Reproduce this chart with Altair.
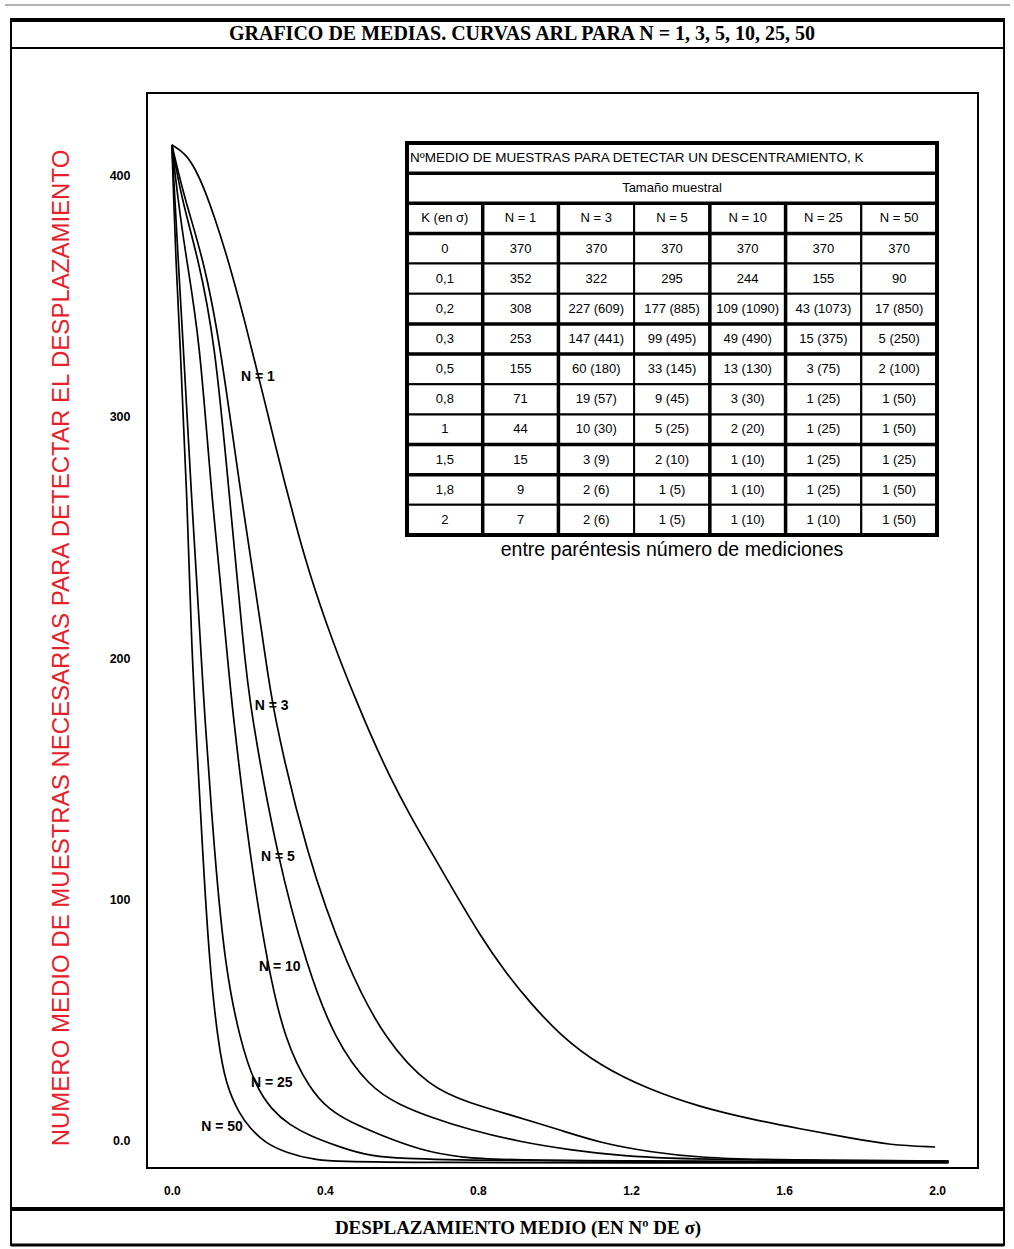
import altair as alt
import pandas as pd

# ---------------- curve data ----------------
series_names = ["N = 1", "N = 3", "N = 5", "N = 10", "N = 25", "N = 50"]

k_n1 = [0.0, 0.034, 0.060, 0.086, 0.112, 0.139, 0.165, 0.191, 0.217, 0.243, 0.269, 0.295, 0.322,
        0.348, 0.374, 0.405, 0.439, 0.478, 0.523, 0.570, 0.622, 0.675, 0.740, 0.805, 0.871, 0.937,
        1.014, 1.119, 1.250, 1.380, 1.511, 1.642, 1.773, 1.877, 1.995]
arl_n1 = [412.6, 409.3, 403.1, 394.0, 382.4, 369.1, 354.6, 339.3, 322.7, 306.1, 289.1, 272.6, 256.4,
          241.5, 228.3, 213.8, 199.3, 183.9, 166.9, 150.8, 135.0, 120.5, 102.7, 85.3, 70.0, 57.2,
          43.9, 31.1, 21.1, 14.1, 9.1, 5.0, 1.2, -1.7, -2.5]

k_n3 = [0.0, 0.034, 0.081, 0.125, 0.178, 0.243, 0.261, 0.353, 0.458, 0.557, 0.675, 0.779, 0.884,
        1.014, 1.119, 1.250, 1.380, 1.590, 2.03]
arl_n3 = [412.6, 389.8, 366.2, 331.8, 269.7, 203.4, 179.8, 117.6, 72.1, 41.8, 22.0, 15.7, 10.8,
          4.6, -0.8, -4.6, -7.0, -7.9, -8.3]

k_n5 = [0.0, 0.026, 0.068, 0.112, 0.149, 0.188, 0.204, 0.275, 0.353, 0.426, 0.518, 0.596, 0.675,
        0.779, 0.910, 1.041, 1.171, 1.380, 2.03]
arl_n5 = [412.6, 389.8, 366.2, 331.8, 269.7, 203.4, 179.8, 117.6, 72.1, 41.8, 22.0, 14.9, 9.9,
          4.6, -0.4, -3.7, -6.2, -7.9, -8.3]

k_n10 = [0.0, 0.016, 0.037, 0.073, 0.102, 0.144, 0.157, 0.204, 0.251, 0.295, 0.361, 0.413, 0.465,
         0.544, 0.648, 0.753, 0.910, 2.03]
arl_n10 = [412.6, 389.8, 366.2, 331.8, 269.7, 203.4, 179.8, 117.6, 72.1, 41.8, 21.1, 12.8, 7.9,
           2.5, -3.7, -7.0, -8.3, -8.7]

k_n25 = [0.0, 0.008, 0.016, 0.029, 0.050, 0.076, 0.084, 0.112, 0.139, 0.178, 0.217, 0.261, 0.308,
         0.361, 0.439, 0.510, 0.667, 2.03]
arl_n25 = [412.6, 389.8, 366.2, 331.8, 269.7, 203.4, 179.8, 117.6, 72.1, 41.8, 23.2, 12.8, 6.6,
           2.1, -2.5, -6.2, -8.3, -8.7]

k_n50 = [0.0, 0.005, 0.010, 0.021, 0.039, 0.052, 0.060, 0.081, 0.099, 0.120, 0.141, 0.178, 0.204,
         0.243, 0.301, 0.369, 0.484, 2.03]
arl_n50 = [412.6, 389.8, 366.2, 331.8, 269.7, 203.4, 179.8, 117.6, 72.1, 41.8, 23.2, 10.8, 5.4,
           -0.8, -5.0, -7.9, -9.1, -9.1]

label_k = [0.225, 0.261, 0.277, 0.282, 0.261, 0.131]
label_arl = [316.5, 180.2, 117.6, 72.1, 24.0, 5.8]

x_ticks = [0.0, 0.4, 0.8, 1.2, 1.6, 2.0]
y_ticks = [0, 100, 200, 300, 400]

# ---------------- table data ----------------
tabla_titulo = "NºMEDIO DE MUESTRAS PARA DETECTAR UN DESCENTRAMIENTO, K"
tabla_sub = "Tamaño muestral"
cabeceras = ["K (en σ)", "N = 1", "N = 3", "N = 5", "N = 10", "N = 25", "N = 50"]
col_k = ["0", "0,1", "0,2", "0,3", "0,5", "0,8", "1", "1,5", "1,8", "2"]
col_n1 = ["370", "352", "308", "253", "155", "71", "44", "15", "9", "7"]
col_n3 = ["370", "322", "227 (609)", "147 (441)", "60 (180)", "19 (57)", "10 (30)", "3 (9)", "2 (6)", "2 (6)"]
col_n5 = ["370", "295", "177 (885)", "99 (495)", "33 (145)", "9 (45)", "5 (25)", "2 (10)", "1 (5)", "1 (5)"]
col_n10 = ["370", "244", "109 (1090)", "49 (490)", "13 (130)", "3 (30)", "2 (20)", "1 (10)", "1 (10)", "1 (10)"]
col_n25 = ["370", "155", "43 (1073)", "15 (375)", "3 (75)", "1 (25)", "1 (25)", "1 (25)", "1 (25)", "1 (10)"]
col_n50 = ["370", "90", "17 (850)", "5 (250)", "2 (100)", "1 (50)", "1 (50)", "1 (25)", "1 (50)", "1 (50)"]
nota = "entre paréntesis número de mediciones"

titulo = "GRAFICO DE MEDIAS. CURVAS ARL PARA N = 1, 3, 5, 10, 25, 50"
titulo_x = "DESPLAZAMIENTO MEDIO (EN Nº DE σ)"
titulo_y = "NUMERO MEDIO DE MUESTRAS NECESARIAS PARA DETECTAR EL DESPLAZAMIENTO"

# ---------------- build frames ----------------
rows = []
for name, xs_, ys_ in zip(series_names,
                          [k_n1, k_n3, k_n5, k_n10, k_n25, k_n50],
                          [arl_n1, arl_n3, arl_n5, arl_n10, arl_n25, arl_n50]):
    for i, (a, b) in enumerate(zip(xs_, ys_)):
        rows.append({"serie": name, "k": a, "arl": b, "orden": i})
curves_df = pd.DataFrame(rows)
labels_df = pd.DataFrame({"serie": series_names, "k": label_k, "arl": label_arl})

columns = [col_k, col_n1, col_n3, col_n5, col_n10, col_n25, col_n50]
ncol = len(columns)
nrow = 3 + len(col_k)
cells = [{"c0": 0, "c1": ncol, "r0": 0, "r1": 1},
         {"c0": 0, "c1": ncol, "r0": 1, "r1": 2}]
texts = [{"cx": ncol / 2, "cy": 1.5, "txt": tabla_sub}]
for c in range(ncol):
    cells.append({"c0": c, "c1": c + 1, "r0": 2, "r1": 3})
    texts.append({"cx": c + 0.5, "cy": 2.5, "txt": cabeceras[c]})
    for r, val in enumerate(columns[c]):
        cells.append({"c0": c, "c1": c + 1, "r0": r + 3, "r1": r + 4})
        texts.append({"cx": c + 0.5, "cy": r + 3.5, "txt": val})
cells_df = pd.DataFrame(cells)
texts_df = pd.DataFrame(texts)
head_df = pd.DataFrame([{"cx": 0.04, "cy": 0.5, "txt": tabla_titulo}])
nota_df = pd.DataFrame([{"cx": ncol / 2, "cy": nrow + 0.5, "txt": nota}])
outer_df = pd.DataFrame([{"c0": 0, "c1": ncol, "r0": 0, "r1": nrow}])
# heavier separators seen in the printed table (row / column boundaries)
thick_rows = pd.DataFrame({"r": [1, 2, 3, 6, 7, 10, 11]})
thick_cols = pd.DataFrame({"c": [1, 2, 4, 5]})

SANS = "Liberation Sans Narrow, Liberation Sans, Arial, sans-serif"
SERIF = "Liberation Serif, Times New Roman, serif"

W, H = 831, 1075

xs = alt.Scale(domain=[-0.065, 2.107], nice=False, zero=False)
ys = alt.Scale(domain=[-11.2, 434.1], nice=False, zero=False)

x_axis = alt.Axis(values=x_ticks, format=".1f", ticks=False, domain=False, grid=False,
                  labelPadding=17, labelFont=SANS, labelFontSize=12, labelFontWeight="bold",
                  labelColor="black", title=None)
y_axis = alt.Axis(values=y_ticks, labelExpr="datum.value == 0 ? '0.0' : datum.label",
                  ticks=False, domain=False, grid=False, labelPadding=17, labelFont=SANS,
                  labelFontSize=12.5, labelFontWeight="bold", labelColor="black", title=None)

curves = alt.Chart(curves_df).mark_line(color="black", strokeWidth=1.7, interpolate="basis").encode(
    x=alt.X("k:Q", scale=xs, axis=x_axis),
    y=alt.Y("arl:Q", scale=ys, axis=y_axis),
    detail="serie:N",
    order="orden:Q",
)
curve_labels = alt.Chart(labels_df).mark_text(font=SANS, fontSize=14, fontWeight="bold",
                                              color="black").encode(
    x=alt.X("k:Q", scale=xs), y=alt.Y("arl:Q", scale=ys), text="serie:N")

one = pd.DataFrame({"d": [0]})


def hrule(x0, x1, y, w, color="black"):
    return alt.Chart(one).mark_rule(color=color, strokeWidth=w).encode(
        x=alt.value(x0), x2=alt.value(x1), y=alt.value(y))


def vrule(x, y0, y1, w):
    return alt.Chart(one).mark_rule(color="black", strokeWidth=w).encode(
        x=alt.value(x), y=alt.value(y0), y2=alt.value(y1))


def label(txt, x, y, size, font, weight="bold", color="black", angle=0):
    return alt.Chart(one).mark_text(font=font, fontSize=size, fontWeight=weight, color=color,
                                    angle=angle, align="center", baseline="middle").encode(
        x=alt.value(x), y=alt.value(y), text=alt.value(txt))


deco = [
    hrule(-142, 863, -88, 1, "#666666"),
    hrule(-136, 857, -73, 4),
    hrule(-136, 857, -45, 2),
    hrule(-136, 857, 1116, 4),
    hrule(-136, 857, 1152, 3),
    vrule(-136, -75, 1153, 2),
    vrule(857, -75, 1153, 2),
    label(titulo, 375, -59, 20, SERIF),
    label(titulo_x, 371, 1135, 19, SERIF),
    label(titulo_y, -85, 555, 24, SANS, weight="normal", color="#e8202a", angle=270),
]

main = alt.layer(curves, curve_labels, *deco)

tx = alt.Scale(domain=[0, ncol], range=[260, 790], nice=False, zero=False)
ty = alt.Scale(domain=[0, nrow], range=[50, 442], nice=False, zero=False)

t_cells = alt.Chart(cells_df).mark_rect(fill="white", stroke="black", strokeWidth=2).encode(
    x=alt.X("c0:Q", scale=tx, axis=None), x2="c1:Q",
    y=alt.Y("r0:Q", scale=ty, axis=None), y2="r1:Q")
t_hrows = alt.Chart(thick_rows).mark_rule(color="black", strokeWidth=3.5).encode(
    x=alt.value(260), x2=alt.value(790), y=alt.Y("r:Q", scale=ty, axis=None))
t_vcols = alt.Chart(thick_cols).mark_rule(color="black", strokeWidth=3.5).encode(
    x=alt.X("c:Q", scale=tx, axis=None), y=alt.value(110), y2=alt.value(442))
t_outer = alt.Chart(outer_df).mark_rect(fill=None, stroke="black", strokeWidth=4).encode(
    x=alt.X("c0:Q", scale=tx, axis=None), x2="c1:Q",
    y=alt.Y("r0:Q", scale=ty, axis=None), y2="r1:Q")
t_texts = alt.Chart(texts_df).mark_text(font=SANS, fontSize=13, color="black",
                                        align="center", baseline="middle").encode(
    x=alt.X("cx:Q", scale=tx, axis=None), y=alt.Y("cy:Q", scale=ty, axis=None), text="txt:N")
t_head = alt.Chart(head_df).mark_text(font=SANS, fontSize=13.5, color="black",
                                      align="left", baseline="middle").encode(
    x=alt.X("cx:Q", scale=tx, axis=None), y=alt.Y("cy:Q", scale=ty, axis=None), text="txt:N")
t_nota = alt.Chart(nota_df).mark_text(font=SANS, fontSize=19.5, color="black",
                                      align="center", baseline="middle").encode(
    x=alt.X("cx:Q", scale=tx, axis=None), y=alt.Y("cy:Q", scale=ty, axis=None), text="txt:N")

table = alt.layer(t_cells, t_hrows, t_vcols, t_outer, t_texts, t_head, t_nota)

chart = alt.layer(main, table).resolve_scale(x="independent", y="independent").properties(
    width=W, height=H,
    autosize=alt.AutoSizeParams(type="none"),
    padding={"left": 147, "top": 93, "right": 36, "bottom": 81},
    background="white",
).configure_view(stroke="black", strokeWidth=2)

chart.save("out.html", embed_options={"renderer": "svg", "actions": False})
